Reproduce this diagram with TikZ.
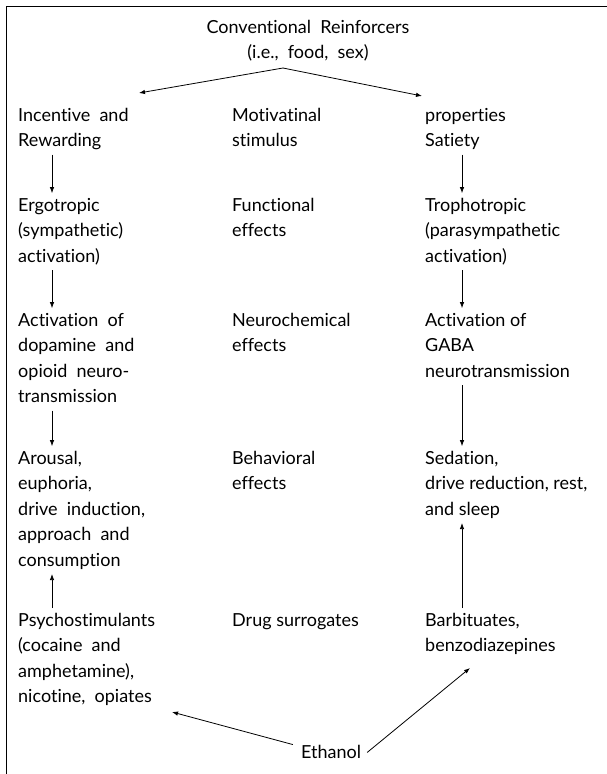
\documentclass[tikz,border=0pt]{standalone}
\usepackage{fontspec}
\setmainfont{Lato}[Ligatures={NoCommon,NoContextual}]
\usetikzlibrary{arrows.meta}
\begin{document}
\begin{tikzpicture}[x=1pt,y=-1pt,
  txt/.style={font=\fontsize{18}{25.5}\selectfont, align=left, inner sep=0pt, anchor=north west},
  arr/.style={-{Latex[length=6pt,width=4.5pt]}, line width=0.8pt}]
\useasboundingbox (0,0) rectangle (607,774);
\draw[line width=1pt] (6,774) -- (6,6) -- (607,6);
% title
\node[txt,align=center,anchor=north] (title) at (308,15.15) {\strut Conventional\ \ Reinforcers\\(i.e.,\ \ food,\ \ sex)\strut};
% row 1
\node[txt] (inc) at (18,103.15) {\strut Incentive\ \ and\\Rewarding\strut};
\node[txt] (mot) at (232,103.15) {\strut Motivatinal\\stimulus\strut};
\node[txt] (sat) at (425,103.15) {\strut properties\\Satiety\strut};
% row 2
\node[txt] (ergo) at (18,193.15) {\strut Ergotropic\\(sympathetic)\\activation)\strut};
\node[txt] (func) at (232,193.15) {\strut Functional\\effects\strut};
\node[txt] (tropho) at (425,193.15) {\strut Trophotropic\\(parasympathetic\\activation)\strut};
% row 3
\node[txt] (dop) at (18,308.15) {\strut Activation\ \ of\\dopamine\ \ and\\opioid\ \ neuro-\\transmission\strut};
\node[txt] (neuro) at (232,308.15) {\strut Neurochemical\\effects\strut};
\node[txt] (gaba) at (425,308.15) {\strut Activation of\\GABA\\neurotransmission\strut};
% row 4
\node[txt] (arou) at (18,446.15) {\strut Arousal,\\euphoria,\\drive\ \ induction,\\approach\ \ and\\consumption\strut};
\node[txt] (behav) at (232,446.15) {\strut Behavioral\\effects\strut};
\node[txt] (sed) at (425,446.15) {\strut Sedation,\\drive reduction, rest,\\and sleep\strut};
% row 5
\node[txt] (psy) at (18,608.15) {\strut Psychostimulants\\(cocaine\ \ and\\amphetamine),\\nicotine,\ \ opiates\strut};
\node[txt] (drug) at (232,608.15) {\strut Drug surrogates\strut};
\node[txt] (barb) at (425,608.15) {\strut Barbituates,\\benzodiazepines\strut};
% ethanol
\node[txt,anchor=base] (eth) at (331,758) {Ethanol};
% connectors
\coordinate (apex) at (283,68);
\coordinate (tipL) at (139,93);
\coordinate (tipR) at (422,96);
\draw[arr] (apex) -- (tipL);
\draw[arr] (apex) -- (tipR);
\draw[arr] ([xshift=34pt]inc.south west) -- ([xshift=34pt]ergo.north west);
\draw[arr] ([xshift=34pt]ergo.south west) -- ([xshift=34pt]dop.north west);
\draw[arr] ([xshift=34pt]dop.south west) -- ([xshift=34pt]arou.north west);
\draw[arr] ([xshift=34pt]psy.north west) -- ([xshift=34pt]arou.south west);
\draw[arr] ([xshift=37pt]sat.south west) -- ([xshift=37pt]tropho.north west);
\draw[arr] ([xshift=37pt]tropho.south west) -- ([xshift=37pt]gaba.north west);
\draw[arr] ([xshift=37pt]gaba.south west) -- ([xshift=37pt]sed.north west);
\draw[arr] ([xshift=37pt]barb.north west) -- ([xshift=37pt]sed.south west);
\coordinate (tipP) at (172,712);
\coordinate (tipB) at (470,668);
\draw[arr] ([xshift=-8pt]eth.north west) -- (tipP);
\draw[arr] ([xshift=6pt,yshift=-1pt]eth.east) -- (tipB);
\end{tikzpicture}
\end{document}
